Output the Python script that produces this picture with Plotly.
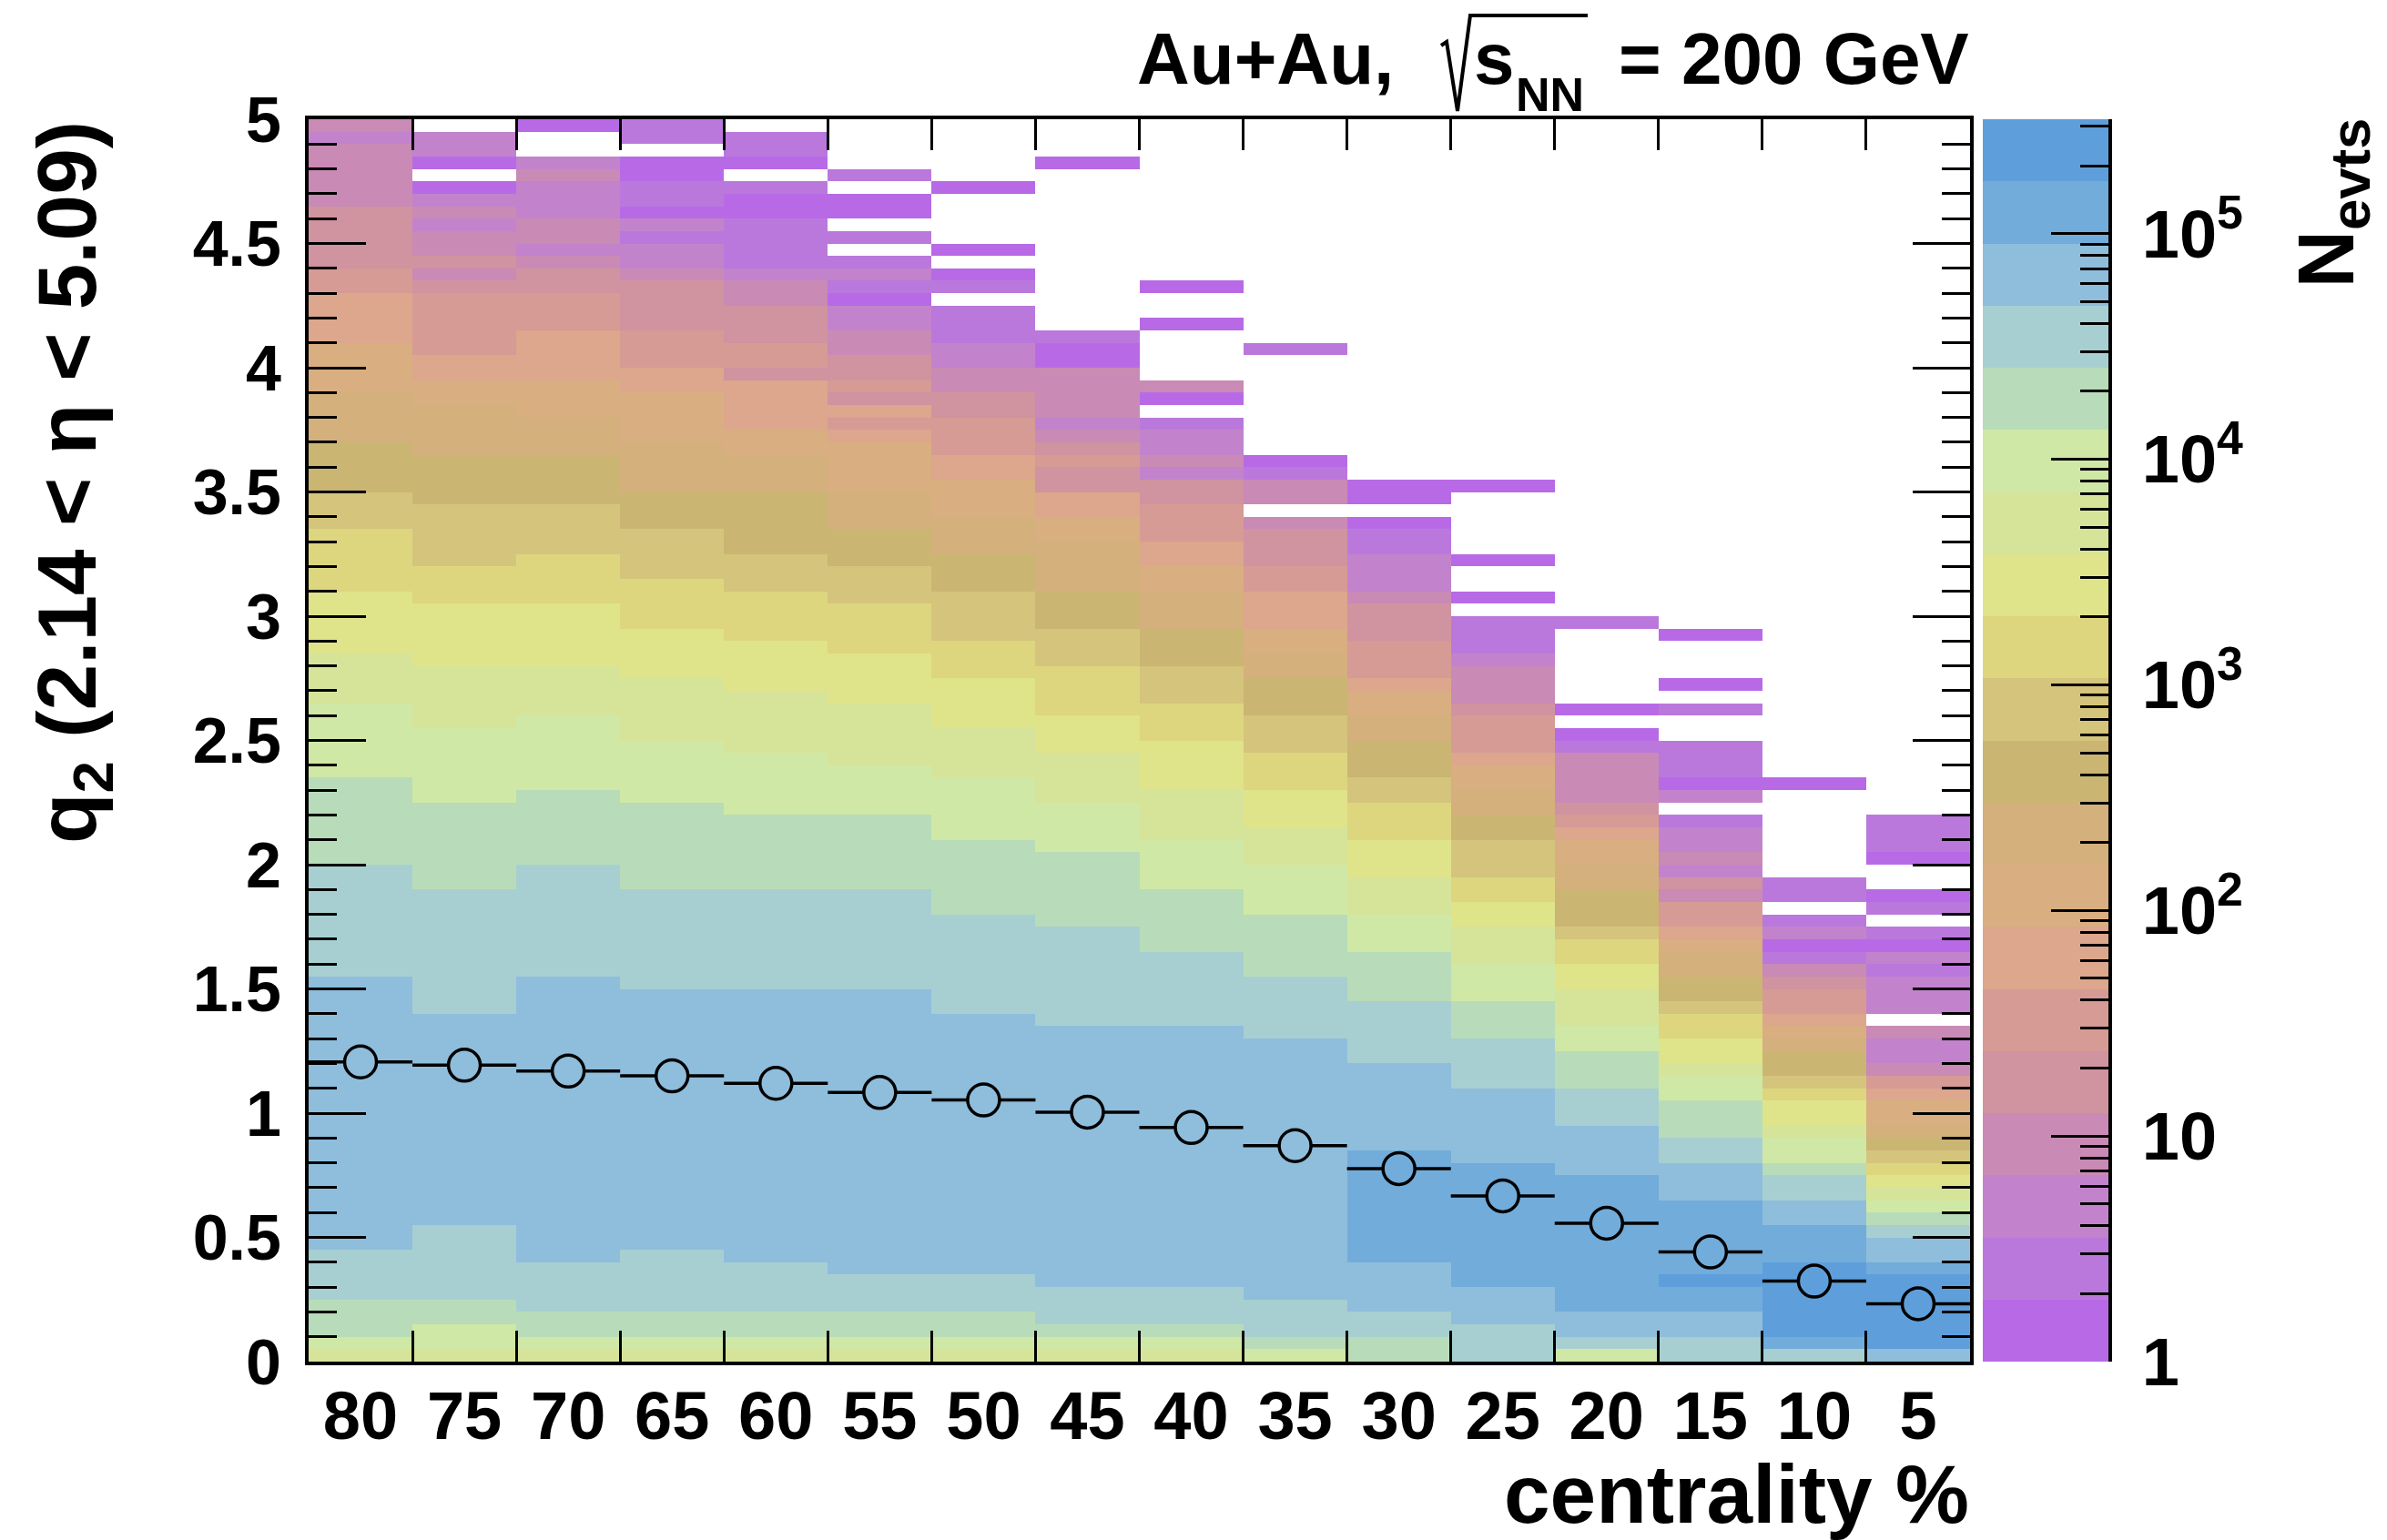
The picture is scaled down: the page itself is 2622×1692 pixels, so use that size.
import plotly.graph_objects as go
import math

# ---------------- data ----------------
centrality = ["80", "75", "70", "65", "60", "55", "50", "45",
              "40", "35", "30", "25", "20", "15", "10", "5"]
q2_mean = [1.206, 1.193, 1.169, 1.150, 1.120, 1.083, 1.053, 1.004,
           0.942, 0.869, 0.777, 0.667, 0.557, 0.441, 0.324, 0.233]

# colour band (1..20, 0 = empty) of N_evts in every q2 bin of 0.05,
# listed from the top of the axis (q2 = 5) downwards, one list per centrality bin
band_80 = [4,3,4,4,4,4,4,5,5,5, 5,5,6,6,7,7,7,7,8,8, 8,8,9,9,9,9,10,10,10,10,
           11,11,11,12,12,12,12,12,13,13, 13,13,13,14,14,14,14,15,15,15,
           15,15,15,16,16,16,16,16,16,16, 17,17,17,17,17,17,17,17,17,18,
           18,18,18,18,18,18,18,18,18,18, 18,18,18,18,18,18,18,18,18,18,
           18,17,17,17,17,16,16,16,15,14]
band_75 = [0,3,3,1,0,1,3,4,3,4, 4,5,4,5,6,6,6,6,6,7, 7,8,8,9,9,9,9,10,10,10,
           10,11,11,11,11,11,12,12,12,13, 13,13,13,13,14,14,14,14,14,15,
           15,15,15,15,15,16,16,16,16,16, 16,16,17,17,17,17,17,17,17,17,
           17,17,18,18,18,18,18,18,18,18, 18,18,18,18,18,18,18,18,18,17,
           17,17,17,17,17,16,16,15,15,14]
band_70 = [1,0,0,3,4,3,3,3,4,4, 3,4,5,5,6,6,6,7,7,7, 7,8,8,8,9,9,9,10,10,10,
           10,11,11,11,11,12,12,12,12,13, 13,13,13,13,14,14,14,14,15,15,
           15,15,15,15,16,16,16,16,16,16, 17,17,17,17,17,17,17,17,17,18,
           18,18,18,18,18,18,18,18,18,18, 18,18,18,18,18,18,18,18,18,18,
           18,18,17,17,17,17,16,16,15,14]
band_65 = [2,2,0,1,1,2,2,1,3,2, 3,3,4,5,5,5,5,6,6,6, 7,7,8,8,8,8,9,9,9,9,
           10,10,10,11,11,11,11,12,12,12, 12,13,13,13,13,14,14,14,14,14,
           15,15,15,15,15,16,16,16,16,16, 16,16,17,17,17,17,17,17,17,17,
           18,18,18,18,18,18,18,18,18,18, 18,18,18,18,18,18,18,18,18,18,
           18,17,17,17,17,17,16,16,15,14]
band_60 = [0,2,2,1,0,2,1,1,2,2, 2,2,3,4,4,5,5,5,6,6, 5,7,7,7,7,8,8,9,9,9,
           10,10,10,10,10,11,11,11,12,12, 12,12,13,13,13,13,14,14,14,14,
           14,15,15,15,15,15,16,16,16,16, 16,16,17,17,17,17,17,17,17,17,
           18,18,18,18,18,18,18,18,18,18, 18,18,18,18,18,18,18,18,18,18,
           18,18,17,17,17,17,16,16,15,14]
band_55 = [0,0,0,0,2,0,1,1,0,2, 0,2,3,2,1,3,3,4,4,5, 5,6,5,7,6,7,8,8,8,8,
           9,9,9,10,10,10,11,11,11,12, 12,12,12,13,13,13,13,14,14,14,
           14,14,15,15,15,15,16,16,16,16, 16,16,17,17,17,17,17,17,17,17,
           18,18,18,18,18,18,18,18,18,18, 18,18,18,18,18,18,18,18,18,18,
           18,18,18,17,17,17,16,16,15,14]
band_50 = [0,0,0,0,0,1,0,0,0,0, 1,0,1,2,0,2,2,2,3,3, 4,4,5,5,6,6,6,7,7,8,
           8,8,9,9,9,10,10,10,11,11, 11,11,12,12,12,13,13,13,13,14,
           14,14,14,15,15,15,15,15,16,16, 16,16,16,16,17,17,17,17,17,17,
           17,17,18,18,18,18,18,18,18,18, 18,18,18,18,18,18,18,18,18,18,
           18,18,18,17,17,17,16,16,15,14]
band_45 = [0,0,0,1,0,0,0,0,0,0, 0,0,0,0,0,0,0,2,1,1, 4,4,4,4,3,4,5,6,5,5,
           7,7,8,8,9,9,9,9,10,10, 10,11,11,11,12,12,12,12,13,13,
           13,14,14,14,14,15,15,15,15,16, 16,16,16,16,16,17,17,17,17,17,
           17,17,17,18,18,18,18,18,18,18, 18,18,18,18,18,18,18,18,18,18,
           18,18,18,18,17,17,17,16,15,14]
band_40 = [0,0,0,0,0,0,0,0,0,0, 0,0,0,1,0,0,1,0,0,0, 0,4,1,0,2,3,3,4,3,5,
           5,6,6,6,7,7,8,8,9,9, 9,10,10,10,11,11,11,12,12,12,
           13,13,13,13,14,14,14,14,15,15, 15,15,16,16,16,16,16,17,17,17,
           17,17,17,18,18,18,18,18,18,18, 18,18,18,18,18,18,18,18,18,18,
           18,18,18,18,17,17,17,16,15,14]
band_35 = [0,0,0,0,0,0,0,0,0,0, 0,0,0,0,0,0,0,0,2,0, 0,0,0,0,0,0,0,1,2,4,
           4,0,4,5,5,5,6,6,7,7, 7,8,8,9,9,10,10,10,11,11,
           11,12,12,12,13,13,13,14,14,14, 15,15,15,15,16,16,16,16,16,17,
           17,17,17,17,18,18,18,18,18,18, 18,18,18,18,18,18,18,18,18,18,
           18,18,18,18,18,17,17,17,16,15]
band_30 = [0,0,0,0,0,0,0,0,0,0, 0,0,0,0,0,0,0,0,0,0, 0,0,0,0,0,0,0,0,0,1,
           1,0,1,2,2,3,3,3,4,5, 5,5,6,6,6,7,8,8,9,9,
           10,10,10,11,11,12,12,12,13,13, 13,14,14,14,15,15,15,16,16,16,
           16,17,17,17,17,17,18,18,18,18, 18,18,18,19,19,19,19,19,19,19,
           19,19,18,18,18,18,17,17,16,16]
band_25 = [0,0,0,0,0,0,0,0,0,0, 0,0,0,0,0,0,0,0,0,0, 0,0,0,0,0,0,0,0,0,1,
           0,0,0,0,0,1,0,0,1,0, 2,2,2,3,4,4,4,5,6,6,
           6,7,8,8,9,9,10,10,11,11, 11,12,12,13,13,14,14,14,15,15,
           15,16,16,16,17,17,17,17,18,18, 18,18,18,18,19,19,19,19,19,19,
           19,19,19,19,18,18,18,17,17,17]
band_20 = [0,0,0,0,0,0,0,0,0,0, 0,0,0,0,0,0,0,0,0,0, 0,0,0,0,0,0,0,0,0,0,
           0,0,0,0,0,0,0,0,0,0, 2,0,0,0,0,0,0,1,0,1,
           2,4,4,4,4,5,6,7,8,8, 9,9,10,10,10,11,12,12,13,13,
           14,14,14,15,15,16,16,16,17,17, 17,18,18,18,18,19,19,19,19,19,
           19,19,19,19,19,19,18,18,17,15]
band_15 = [0,0,0,0,0,0,0,0,0,0, 0,0,0,0,0,0,0,0,0,0, 0,0,0,0,0,0,0,0,0,0,
           0,0,0,0,0,0,0,0,0,0, 0,1,0,0,0,1,0,2,0,0,
           2,2,2,1,3,0,2,3,3,4, 3,5,4,6,6,7,8,9,9,10,
           10,11,12,12,13,13,14,15,15,16, 16,16,17,17,18,18,18,19,19,19,
           19,19,19,20,19,19,18,18,17,17]
band_10 = [0,0,0,0,0,0,0,0,0,0, 0,0,0,0,0,0,0,0,0,0, 0,0,0,0,0,0,0,0,0,0,
           0,0,0,0,0,0,0,0,0,0, 0,0,0,0,0,0,0,0,0,0,
           0,0,0,1,0,0,0,0,0,0, 0,2,2,0,2,3,1,2,4,5,
           6,6,7,8,9,10,10,11,12,13, 13,14,15,15,16,17,17,18,18,19,
           19,19,20,20,20,20,20,20,19,17]
band_5 = [0,0,0,0,0,0,0,0,0,0, 0,0,0,0,0,0,0,0,0,0, 0,0,0,0,0,0,0,0,0,0,
          0,0,0,0,0,0,0,0,0,0, 0,0,0,0,0,0,0,0,0,0,
          0,0,0,0,0,0,2,2,2,1, 0,0,1,2,0,2,1,3,2,3,
          3,3,0,4,3,3,4,6,7,8, 8,9,10,11,12,13,14,15,16,17,
          18,18,19,20,20,20,20,20,20,18]

band_colors = ["#b86ae6", "#bb78dc", "#c283cc", "#c98ab5", "#d093a0",
               "#d69b95", "#dca78c", "#d9ae80", "#d4b07c", "#cbb573",
               "#d5c47c", "#ddd67f", "#dfe38a", "#d6e49a", "#cfe8a6",
               "#b8dcb9", "#a7cfd1", "#8fbddc", "#72acda", "#5e9fdb"]
log_nevts_max = 5.507          # colour axis top, log10(N_evts)
q2_bin_width = 0.05
q2_max = 5.0

columns = [band_80, band_75, band_70, band_65, band_60, band_55, band_50, band_45,
           band_40, band_35, band_30, band_25, band_20, band_15, band_10, band_5]

# ---------------- derived ----------------
n_bands = len(band_colors)
step = log_nevts_max / n_bands
n_rows = len(band_80)
x_centers = [i + 0.5 for i in range(len(centrality))]
y_centers = [q2_bin_width * (r + 0.5) for r in range(n_rows)]  # bottom-up


def band_to_log(b):
    return None if b == 0 else (b - 0.5) * step


z = [[band_to_log(columns[c][n_rows - 1 - r]) for c in range(len(columns))]
     for r in range(n_rows)]

cscale = []
for i, col in enumerate(band_colors):
    cscale.append([i / n_bands, col])
    cscale.append([(i + 1) / n_bands, col])

# marker fill = colour of the cell under the marker (ROOT open marker look)
marker_fill = []
for c, m in enumerate(q2_mean):
    row_top = int((q2_max - m) / q2_bin_width)
    b = columns[c][row_top]
    marker_fill.append(band_colors[b - 1] if b > 0 else "white")

# ---------------- geometry (pixels) ----------------
W, H = 2622, 1692
PX0, PX1, PY0, PY1 = 339, 2164, 131, 1496
CB0, CB1 = 2178, 2316


def fx(p):
    return p / W


def fy(p):
    return 1 - p / H


FONT = "Liberation Sans"
xtickfont = dict(family=FONT, size=74, color="black", weight="bold")
ytickfont = dict(family=FONT, size=70, color="black", weight="bold")
cbtickfont = dict(family=FONT, size=74, color="black", weight="bold")

fig = go.Figure()
fig.add_trace(go.Heatmap(x=x_centers, y=y_centers, z=z, colorscale=cscale,
                         zmin=0, zmax=log_nevts_max, showscale=False,
                         hoverongaps=False, xaxis="x", yaxis="y"))
fig.add_trace(go.Scatter(x=x_centers, y=q2_mean, mode="markers",
                         marker=dict(symbol="circle", size=35, color=marker_fill,
                                     line=dict(color="black", width=3.5)),
                         error_x=dict(type="constant", value=0.5, width=0,
                                      thickness=3.5, color="black"),
                         showlegend=False, xaxis="x", yaxis="y"))

# colour bar as its own little axis
band_centers = [(i + 0.5) * step for i in range(n_bands)]
fig.add_trace(go.Heatmap(x=[0], y=band_centers, z=[[v] for v in band_centers],
                         colorscale=cscale, zmin=0, zmax=log_nevts_max,
                         showscale=False, xaxis="x2", yaxis="y2"))

cb_major = [0, 1, 2, 3, 4, 5]
cb_text = ["1", "10", "10<sup>2</sup>", "10<sup>3</sup>", "10<sup>4</sup>", "10<sup>5</sup>"]
cb_minor = [math.log10(k * 10 ** d) for d in range(6) for k in range(2, 10)
            if math.log10(k * 10 ** d) < log_nevts_max]

y_major = [0.5 * i for i in range(11)]
y_text = ["0", "0.5", "1", "1.5", "2", "2.5", "3", "3.5", "4", "4.5", "5"]

fig.update_layout(
    width=W, height=H, margin=dict(l=0, r=0, t=0, b=0, autoexpand=False),
    paper_bgcolor="white", plot_bgcolor="white", showlegend=False,
    xaxis=dict(domain=[fx(PX0), fx(PX1)], range=[0, 16], tickmode="array",
               tickvals=x_centers, ticktext=centrality, ticks="",
               tickfont=xtickfont, showgrid=False, zeroline=False,
               showline=True, linewidth=4, linecolor="black", mirror="allticks",
               ticklabelstandoff=-8, automargin=False,
               minor=dict(tickmode="array", tickvals=list(range(1, 16)),
                          ticks="inside", ticklen=34, tickwidth=3,
                          tickcolor="black", showgrid=False)),
    yaxis=dict(domain=[fy(PY1), fy(PY0)], range=[0, 5], tickmode="array",
               tickvals=y_major, ticktext=y_text, ticks="inside", ticklen=63,
               tickwidth=3, tickcolor="black", tickfont=ytickfont,
               showgrid=False, zeroline=False, showline=True, linewidth=4,
               linecolor="black", mirror="allticks", ticklabelstandoff=12,
               automargin=False,
               minor=dict(dtick=0.1, tick0=0, ticks="inside", ticklen=31,
                          tickwidth=3, tickcolor="black", showgrid=False)),
    xaxis2=dict(domain=[fx(CB0), fx(CB1)], range=[-0.5, 0.5], visible=False,
                anchor="y2", automargin=False),
    yaxis2=dict(domain=[fy(PY1), fy(PY0)], range=[0, log_nevts_max], anchor="x2",
                side="right", tickmode="array", tickvals=cb_major,
                ticktext=cb_text, ticks="inside", ticklen=63, tickwidth=3,
                tickcolor="black", tickfont=cbtickfont, showgrid=False,
                zeroline=False, showline=True, linewidth=4, linecolor="black",
                ticklabelstandoff=18, automargin=False,
                minor=dict(tickmode="array", tickvals=cb_minor, ticks="inside",
                           ticklen=31, tickwidth=3, tickcolor="black",
                           showgrid=False)),
)

title_font = dict(family=FONT, size=80, color="black", weight="bold")
axis_title_font = dict(family=FONT, size=91, color="black", weight="bold")

# header text, pieced around a drawn radical sign
fig.add_annotation(text="Au+Au,", xref="paper", yref="paper",
                   x=fx(1533), y=fy(64), xanchor="right", yanchor="middle",
                   showarrow=False, font=title_font)
fig.add_annotation(text="s", xref="paper", yref="paper",
                   x=fx(1617), y=fy(64), xanchor="left", yanchor="middle",
                   showarrow=False, font=title_font)
fig.add_annotation(text="NN", xref="paper", yref="paper",
                   x=fx(1663), y=fy(104), xanchor="left", yanchor="middle",
                   showarrow=False, font=dict(family=FONT, size=52, color="black",
                                              weight="bold"))
fig.add_annotation(text="= 200 GeV", xref="paper", yref="paper",
                   x=fx(2165), y=fy(64), xanchor="right", yanchor="middle",
                   showarrow=False, font=title_font)
rad = [(1583, 50), (1589, 46), (1601, 122), (1615, 17), (1744, 17)]
fig.add_shape(type="path", xref="paper", yref="paper",
              path="M " + " L ".join(f"{fx(a):.5f},{fy(b):.5f}" for a, b in rad),
              line=dict(color="black", width=4))

fig.add_annotation(text="centrality %", xref="paper", yref="paper",
                   x=fx(2165), y=fy(1641), xanchor="right", yanchor="middle",
                   showarrow=False, font=axis_title_font)
fig.add_annotation(text="q<sub>2</sub> (2.14 &lt; η &lt; 5.09)", xref="paper",
                   yref="paper", x=fx(80), y=fy(131), xanchor="center",
                   yanchor="top", textangle=-90, showarrow=False,
                   font=axis_title_font)
fig.add_annotation(text="N<sub>evts</sub>", xref="paper", yref="paper",
                   x=fx(2560), y=fy(128), xanchor="center", yanchor="top",
                   textangle=-90, showarrow=False,
                   font=dict(family=FONT, size=88, color="black", weight="bold"))

fig.write_html("out.html")
